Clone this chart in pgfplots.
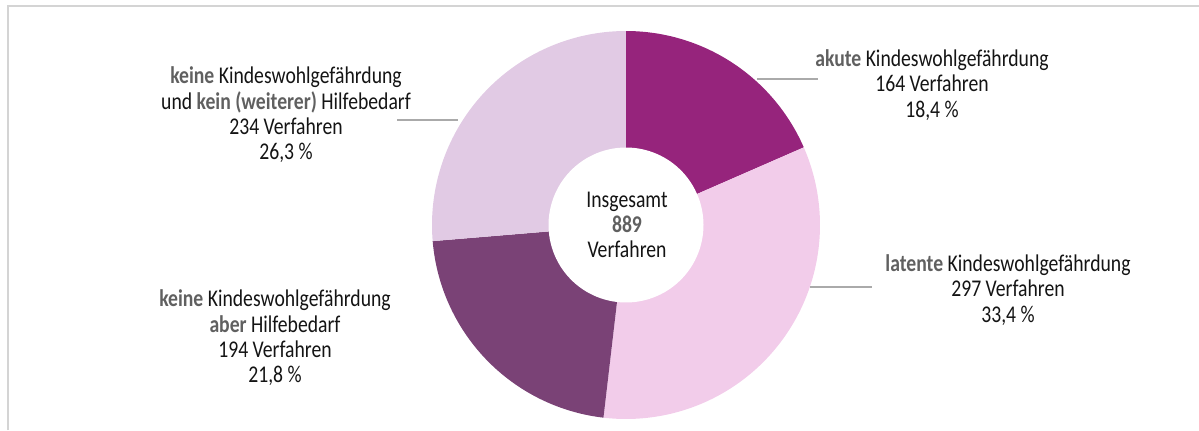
\documentclass[border=0pt]{standalone}
\usepackage{pgfplots}
\pgfplotsset{compat=1.18}
\usepackage{fontspec}
\setmainfont{Carlito}[FakeStretch=0.82]
\definecolor{cakut}{RGB}{150,36,124}
\definecolor{clat}{RGB}{242,204,234}
\definecolor{caber}{RGB}{122,66,118}
\definecolor{ckein}{RGB}{225,202,228}
\definecolor{ctext}{RGB}{20,20,20}
\definecolor{cbold}{RGB}{96,96,96}
\definecolor{cline}{RGB}{170,170,170}
\definecolor{cframe}{RGB}{212,212,212}
\newcommand{\hb}[1]{{\bfseries\color{cbold}#1}}
\tikzset{lbl/.style={font=\fontsize{24bp}{25.3bp}\selectfont, text=ctext, align=center, inner sep=0pt}}
\begin{document}
\begin{tikzpicture}
\def\vA{164}\def\vB{297}\def\vC{194}\def\vD{234}
\pgfmathsetmacro{\total}{\vA+\vB+\vC+\vD}
\pgfmathsetmacro{\aA}{90}
\pgfmathsetmacro{\aB}{\aA-360*(\vA/\total)}
\pgfmathsetmacro{\aC}{\aB-360*(\vB/\total)}
\pgfmathsetmacro{\aD}{\aC-360*(\vC/\total)}
\pgfmathsetmacro{\aE}{\aD-360*(\vD/\total)}
\begin{axis}[scale only axis, width=1199bp, height=430bp,
  xmin=0, xmax=1199, ymin=0, ymax=430, hide axis, clip=false]
\coordinate (bl) at (axis cs:0,0);
\coordinate (tr) at (axis cs:1199,430);
\addplot[draw=none, fill=cakut, domain=\aB:\aA, samples=90] ({626+194*cos(x)},{205+194*sin(x)}) -- (axis cs:626,205) -- cycle;
\addplot[draw=none, fill=clat, domain=\aC:\aB, samples=120] ({626+194*cos(x)},{205+194*sin(x)}) -- (axis cs:626,205) -- cycle;
\addplot[draw=none, fill=caber, domain=\aD:\aC, samples=90] ({626+194*cos(x)},{205+194*sin(x)}) -- (axis cs:626,205) -- cycle;
\addplot[draw=none, fill=ckein, domain=\aE:\aD, samples=100] ({626+194*cos(x)},{205+194*sin(x)}) -- (axis cs:626,205) -- cycle;
\addplot[draw=none, fill=white, domain=0:360, samples=120] ({626+77.5*cos(x)},{205+77.5*sin(x)}) -- cycle;
\draw[cline, line width=1.2bp] (axis cs:757,351) -- (axis cs:818,351);
\draw[cline, line width=1.2bp] (axis cs:810,143) -- (axis cs:872,143);
\draw[cline, line width=1.2bp] (axis cs:397,310) -- (axis cs:458,310);
\draw[cframe, line width=2bp] (axis cs:7.5,0) -- (axis cs:7.5,423.5) -- (axis cs:1199,423.5);
\node[lbl] at (axis cs:627,205) {Insgesamt\\\hb{889}\\Verfahren};
\node[lbl] at (axis cs:932,345) {\hb{akute} Kindeswohlgefährdung\\164 Verfahren\\18,4 \%};
\node[lbl] at (axis cs:1008,140) {\hb{latente} Kindeswohlgefährdung\\297 Verfahren\\33,4 \%};
\node[lbl] at (axis cs:275,92) {\hb{keine} Kindeswohlgefährdung\\\hb{aber} Hilfebedarf\\194 Verfahren\\21,8 \%};
\node[lbl] at (axis cs:286,315) {\hb{keine} Kindeswohlgefährdung\\und \hb{kein (weiterer)} Hilfebedarf\\234 Verfahren\\26,3 \%};
\end{axis}
\pgfresetboundingbox
\path[use as bounding box] (bl) rectangle (tr);
\end{tikzpicture}
\end{document}
